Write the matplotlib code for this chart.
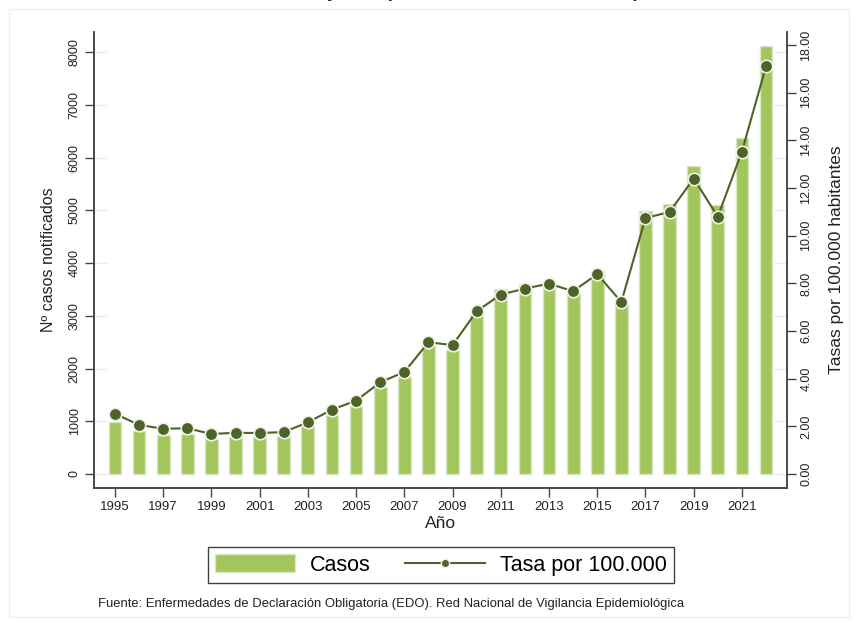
import matplotlib
matplotlib.use("Agg")
import matplotlib.pyplot as plt
from matplotlib.lines import Line2D
from matplotlib.patches import Patch, Rectangle

plt.rcParams['font.family'] = ['Liberation Sans', 'DejaVu Sans']

years = list(range(1995, 2023))
casos = [990, 810, 746, 759, 664, 702, 696, 727, 904, 1126, 1297, 1651, 1840, 2441,
         2359, 3023, 3510, 3612, 3643, 3434, 3858, 3245, 4984, 5130, 5838, 5111, 6376, 8128]
tasa = [2.53, 2.06, 1.90, 1.92, 1.68, 1.73, 1.72, 1.76, 2.17, 2.70, 3.08, 3.85, 4.28, 5.53,
        5.41, 6.83, 7.53, 7.78, 7.99, 7.67, 8.39, 7.22, 10.74, 11.00, 12.40, 10.80, 13.53, 17.11]
left_ticks = list(range(0, 8001, 1000))
right_ticks = list(range(0, 19, 2))
x_ticks = list(range(1995, 2022, 2))

titulo = "Número de casos y tasa por 100.000 habitantes. España, 1995-2022"
fuente = ("Fuente: Enfermedades de Declaración Obligatoria (EDO). "
          "Red Nacional de Vigilancia Epidemiológica")

bar_color = '#a2c65b'
bar_edge = '#d8e8c4'
line_color = '#4f6228'
axis_color = '#444444'
text_color = '#222222'

fig = plt.figure(figsize=(8.58, 6.26), dpi=100)
ax = fig.add_axes([94 / 858, 1 - 488 / 626, (787 - 94) / 858, (488 - 32) / 626])
ax2 = ax.twinx()

ax.bar(years, casos, width=0.53, color=bar_color, edgecolor=bar_edge, linewidth=1, zorder=2)
ax2.plot(years, tasa, color=line_color, linewidth=1.5, marker='o', markersize=9,
         markerfacecolor=line_color, markeredgecolor='#eef2e6', markeredgewidth=1.2, zorder=3)

ax.set_xlim(1994.13, 2022.87)
ax.set_ylim(-266, 8387)
ax2.set_ylim(-0.587, 18.55)

# faint grid stubs between the spines and the outer bars
xl = ax.get_xlim()
for t in left_ticks:
    ax.hlines(t, xl[0], years[0] - 0.32, color='#e3ecf3', linewidth=1, zorder=1)
    ax.hlines(t, years[-1] + 0.32, xl[1], color='#e3ecf3', linewidth=1, zorder=1)

ax.set_xticks(x_ticks)
ax.set_xticklabels([str(y) for y in x_ticks], fontsize=9.5, color=text_color)
ax.set_yticks(left_ticks)
ax.set_yticklabels([str(v) for v in left_ticks], fontsize=9, color=text_color,
                   rotation=90, va='center')
ax2.set_yticks(right_ticks)
ax2.set_yticklabels(['%.2f' % v for v in right_ticks], fontsize=9, color=text_color,
                    rotation=90, va='center')

for a in (ax, ax2):
    a.tick_params(length=6.5, width=1, color=axis_color, pad=3)
    for s in a.spines.values():
        s.set_color(axis_color)
        s.set_linewidth(1.1)
    a.spines['top'].set_visible(False)

ax.set_ylabel('Nº casos notificados', fontsize=11.5, color=text_color, labelpad=9)
ax2.set_ylabel('Tasas por 100.000 habitantes', fontsize=12.5, color=text_color,
               rotation=90, labelpad=12)
ax.set_xlabel('Año', fontsize=12.5, color=text_color, labelpad=2)

handles = [Patch(facecolor=bar_color, edgecolor=bar_edge),
           Line2D([], [], color=line_color, linewidth=1.5, marker='o', markersize=6,
                  markerfacecolor=line_color, markeredgecolor='#eef2e6')]
leg = fig.legend(handles, ['Casos', 'Tasa por 100.000'], loc='center',
                 bbox_to_anchor=(441 / 858, 1 - 565 / 626), ncol=2, fontsize=15.5,
                 frameon=True, fancybox=False, handlelength=3.7, handleheight=0.9,
                 handletextpad=0.7, columnspacing=1.6, borderpad=0.35)
leg.get_frame().set_edgecolor('#111111')
leg.get_frame().set_linewidth(1)

fig.text(98 / 858, 1 - 604 / 626, fuente, fontsize=9.4, color=text_color, va='center')
fig.text(470 / 858, 1 + 3 / 626, titulo, fontsize=14, fontweight='bold', color=text_color,
         ha='center', va='baseline')

fig.patches.append(Rectangle((9 / 858, 9 / 626), 1 - 18 / 858, 1 - 18 / 626,
                             transform=fig.transFigure, fill=False,
                             edgecolor='#f0f0f0', linewidth=1))

fig.savefig('out.png', dpi=100)
